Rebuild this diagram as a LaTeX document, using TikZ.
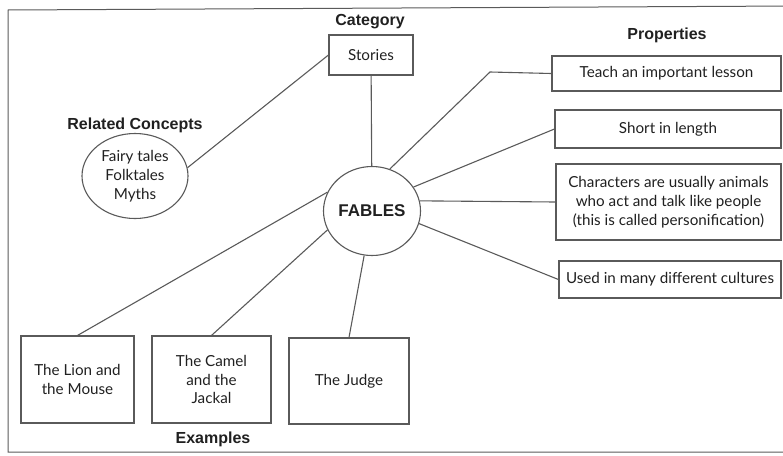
\documentclass[tikz,border=0pt]{standalone}
\usepackage{fontspec}
\setmainfont{Lato}
\newfontfamily\headfont{Liberation Sans}
\usetikzlibrary{shapes.geometric}
\definecolor{linegray}{HTML}{5A5A5A}
\definecolor{inkblack}{HTML}{202020}

\begin{document}
\begin{tikzpicture}[x = 1pt, y = -1pt,
  every node/.style = {text = inkblack, font = \fontsize{15.2}{18.8}\selectfont},
  head/.style = {font = \headfont\bfseries\fontsize{16}{18}\selectfont},
  card/.style = {draw = linegray, line width = 1.1pt, align = center, inner sep = 0pt},
  link/.style = {draw = linegray, line width = 1.1pt}]
\useasboundingbox (0,0) rectangle (783,455);
\draw [color = linegray, line width = 1pt] (795,6) -- (8,10) -- (8,452) -- (795,452); % page frame
% centre
\node [card, ellipse, minimum width = 97pt, minimum height = 89pt] (fables) at (372,211) {\headfont\bfseries\fontsize{17}{18}\selectfont FABLES};
% category
\node [head] (categorylabel) at (370,22) {Category};
\node [card, minimum width = 84pt, minimum height = 40pt] (stories) at (371,55) {Stories};
% related concepts
\node [head] (relatedlabel) at (135,125) {Related Concepts};
\node [card, ellipse, minimum width = 106pt, minimum height = 85pt] (related) at (135,176) {Fairy tales\\Folktales\\Myths};
% properties
\node [head] (propertieslabel) at (667,35) {Properties};
\node [card, minimum width = 229pt, minimum height = 35pt] (teach) at (666.5,73.5) {Teach an important lesson};
\node [card, minimum width = 226pt, minimum height = 38pt] (short) at (668,129) {Short in length};
\node [card, minimum width = 225pt, minimum height = 76pt] (chars) at (668.5,202) {Characters are usually animals\\who act and talk like people\\(this is called personification)};
\node [card, minimum width = 222pt, minimum height = 37pt] (used) at (670,279.5) {Used in many different cultures};
% examples
\node [card, minimum width = 113pt, minimum height = 87pt] (lion) at (77.5,379.5) {The Lion and\\the Mouse};
\node [card, minimum width = 119pt, minimum height = 87pt] (camel) at (211.5,379.5) {The Camel\\and the\\Jackal};
\node [card, minimum width = 120pt, minimum height = 86pt] (judge) at (349,381) {The Judge};
\node [head] (exampleslabel) at (213,439) {Examples};
% connectors
\coordinate (teachbend) at (490,72);
\draw [link] (stories) -- (fables);
\draw [link] (related.9) -- (stories.west);
\draw [link] (fables.67) -- (teachbend) -- (teach.west);
\draw [link] (fables.30) -- (short.west);
\draw [link] (fables.12) -- (chars.west);
\draw [link] (fables.345) -- (used.west);
\draw [link] (fables.157) -- (lion.north);
\draw [link] (fables.203) -- (camel.north);
\draw [link] (fables.260) -- (judge.north);
\end{tikzpicture}
\end{document}
